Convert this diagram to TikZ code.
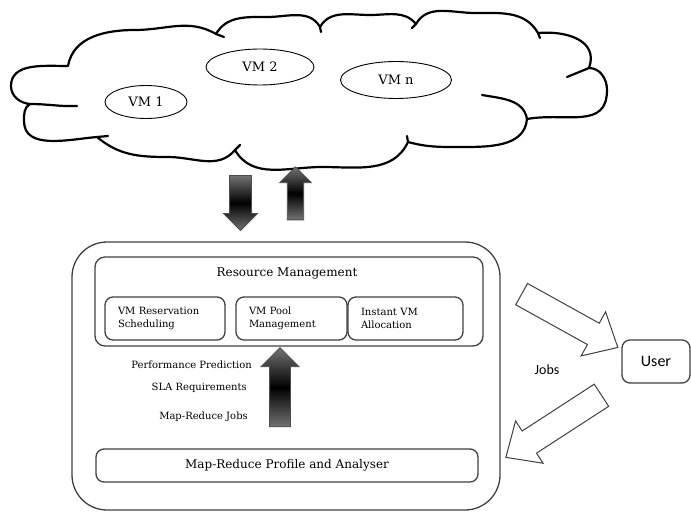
\documentclass[tikz,border=0pt]{standalone}
\usepackage{fontspec}
\setmainfont{DejaVu Serif}
\newfontfamily\calfont{Carlito}
\usetikzlibrary{shapes.geometric,shapes.arrows}

\tikzset{
  frame/.style={draw=black!75, line width=1.3pt, rounded corners=#1},
  subbox/.style={frame=8pt, minimum height=43pt, inner xsep=13pt, align=left,
    font=\fontsize{10}{12.5}\selectfont},
  vm/.style={ellipse, draw, line width=0.9pt, inner sep=0pt, font=\fontsize{13}{15}\selectfont},
  lbl/.style={anchor=east, inner sep=0pt, font=\fontsize{10}{12}\selectfont},
  darkarrow/.style={single arrow, draw=black!70, line width=0.8pt, inner xsep=0pt,
    top color=black!55, bottom color=black!55, middle color=black},
  blockarrow/.style={single arrow, draw=black!75, line width=1pt, fill=white, inner xsep=0pt,
    single arrow tip angle=84},
  cloudline/.style={line width=2.2pt, line cap=round, line join=round}
}

\begin{document}
\begin{tikzpicture}[x=1pt,y=1pt]
    \useasboundingbox (0,0) rectangle (691,-513);
    % cloud
    \draw[cloudline] (68,-66) to[out=80,in=180] (135,-30) to[out=0,in=150] (216,-34)
        to[out=60,in=180] (267,-17) to[out=0,in=120] (320,-27)
        to[out=60,in=180] (370,-15) to[out=0,in=130] (416,-24)
        to[out=60,in=180] (475,-13) to[out=0,in=120] (538,-33)
        to[out=5,in=70,looseness=1.2] (589,-68)
        to[out=0,in=90] (607,-90) to[out=-90,in=10,looseness=1.2] (527,-119)
        to[out=-95,in=0] (458,-147) to[out=180,in=-15] (408,-142)
        to[out=-115,in=0] (322,-167) to[out=180,in=-60] (235,-150)
        to[out=-130,in=0] (168,-157) to[out=180,in=-40] (97,-137)
        to[out=185,in=-90] (24,-121) to[out=90,in=-150] (30,-104)
        to[out=175,in=-90] (11,-86) to[out=90,in=180] (68,-66);
    \draw[cloudline] (30,-104) to[out=0,in=182] (77,-106);
    \draw[cloudline] (97,-137) -- (108,-136);
    \draw[cloudline] (235,-150) -- (240,-145);
    \draw[cloudline] (408,-142) -- (407,-136);
    \draw[cloudline] (527,-119) to[out=100,in=-10] (482,-95);
    \draw[cloudline] (589,-68) -- (567,-77);
    \draw[cloudline] (538,-33) -- (540,-38);
    \draw[cloudline] (416,-24) -- (412,-28);
    \draw[cloudline] (320,-27) -- (321,-32);
    \draw[cloudline] (216,-34) -- (224,-37);

    \node[vm, minimum width=82pt, minimum height=33pt] (vm1) at (146,-102) {VM 1};
    \node[vm, minimum width=108pt, minimum height=36pt] (vm2) at (260,-67) {VM 2};
    \node[vm, minimum width=111pt, minimum height=37pt] (vmn) at (396,-80) {VM n};

    % cloud <-> broker
    \node[darkarrow, rotate=-90, minimum height=55pt, inner ysep=10.5pt,
        single arrow head extend=6pt] (down) at (240.5,-197.5) {};
    \node[darkarrow, rotate=90, minimum height=53pt, inner ysep=7.8pt,
        single arrow head extend=7.6pt] (up) at (295.5,-197.5) {};

    % broker
    \node[frame=35pt, minimum width=428pt, minimum height=268pt] (broker) at (286,-376) {};
    \node[frame=10pt, minimum width=388pt, minimum height=89pt] (resmgmt) at (289,-301.5) {};
    \node[font=\fontsize{12}{14}\selectfont] (rmtitle) at (287,-273) {Resource Management};
    \node[subbox, minimum width=120pt, text width=94pt] (sched) at (165,-318.5) {VM Reservation\\Scheduling};
    \node[subbox, minimum width=111pt, text width=85pt] (pool) at (291.5,-318.5) {VM Pool\\Management};
    \node[subbox, minimum width=115pt, text width=89pt] (instant) at (405.5,-318.5) {Instant VM\\Allocation};

    \node[darkarrow, rotate=90, minimum height=79pt, inner ysep=10pt,
        single arrow head extend=8.5pt] (feed) at (280,-392.5) {};
    \node[lbl] (perf) at (252,-365) {Performance Prediction};
    \node[lbl] (sla) at (247,-388) {SLA Requirements};
    \node[lbl] (mrjobs) at (248,-417) {Map-Reduce Jobs};

    \node[frame=8pt, minimum width=382pt, minimum height=33pt,
        font=\fontsize{12}{14}\selectfont] (profile) at (287,-465.5) {Map-Reduce Profile and Analyser};

    % user side
    \node[frame=8pt, minimum width=68pt, minimum height=43pt,
        font=\calfont\fontsize{16}{18}\selectfont] (user) at (656,-361.5) {User};
    \node[font=\calfont\fontsize{14}{16}\selectfont] (jobs) at (547,-370) {Jobs};
    \node[blockarrow, rotate=-29, minimum height=110pt, inner ysep=11.7pt,
        single arrow head extend=13pt] (touser) at (563.8,-317.5) {};
    \node[blockarrow, rotate=-147, minimum height=114pt, inner ysep=12.7pt,
        single arrow head extend=12pt] (tobroker) at (559.8,-422.3) {};
\end{tikzpicture}
\end{document}
